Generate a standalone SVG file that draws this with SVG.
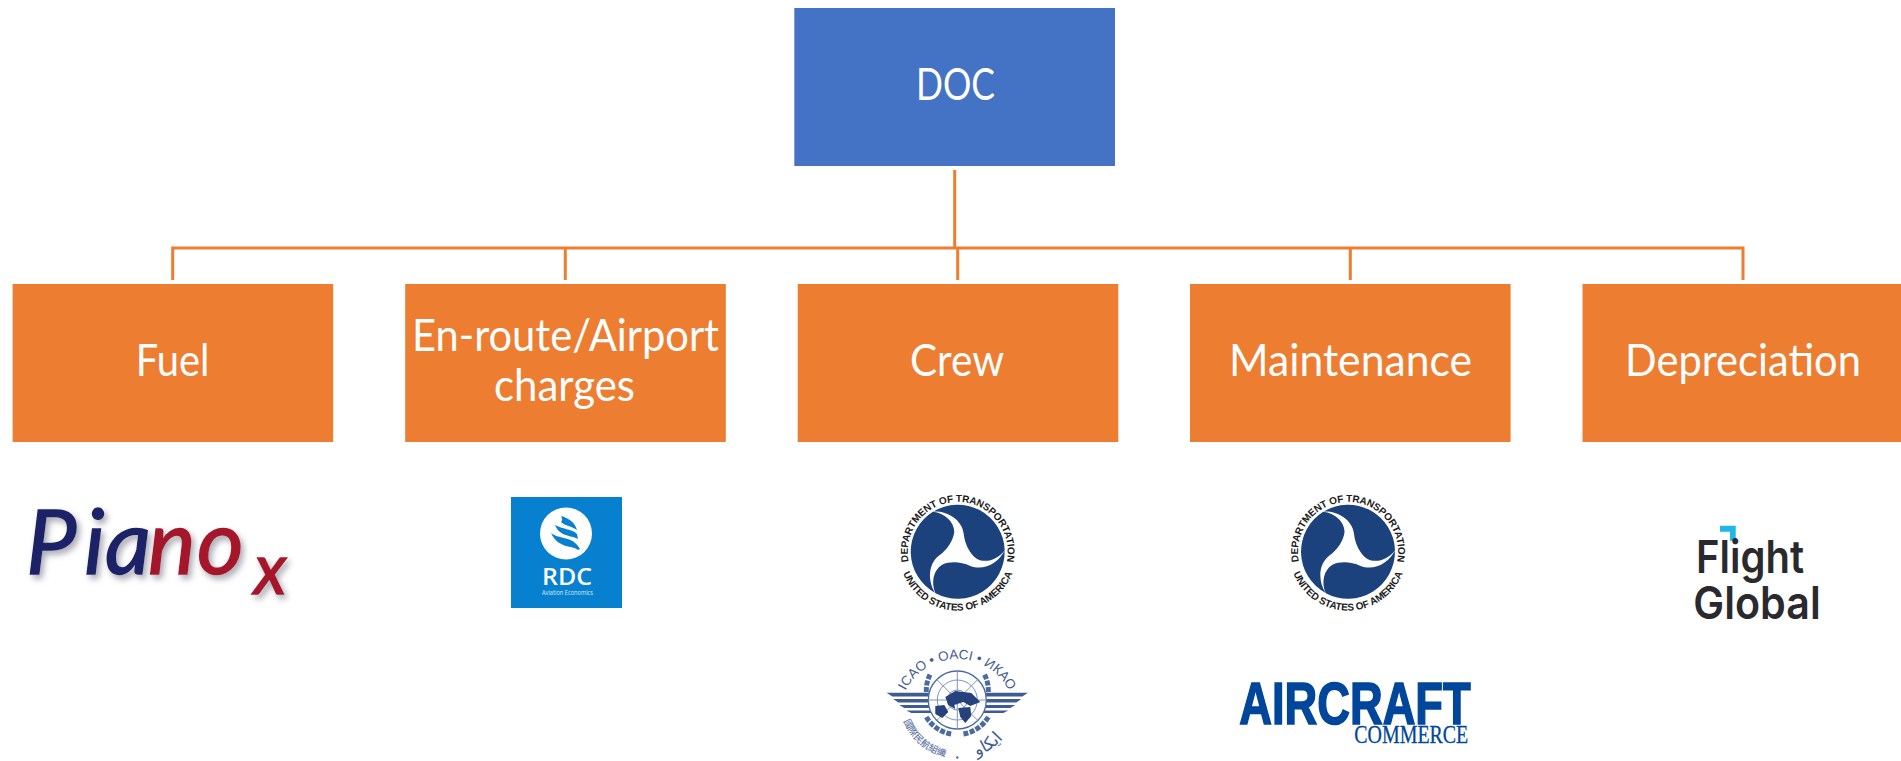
<svg xmlns="http://www.w3.org/2000/svg" width="1901" height="761" viewBox="0 0 1901 761">
<style>
.box{fill:#ED7D31}
.lbl{font-family:Lato,"Liberation Sans",sans-serif;font-size:45px;fill:#fff}
.conn{stroke:#ED7D31;stroke-width:3;fill:none}
.dot{font-family:"Liberation Sans Narrow","Liberation Sans",sans-serif;font-weight:700;font-size:10px;letter-spacing:-.15px;fill:#1c1c1c;text-anchor:middle}
.ic{fill:#3f5b96}
.ict{font-family:"Liberation Sans",sans-serif;font-size:13.5px;fill:#3f5b96;text-anchor:middle}
</style>
<defs>
<filter id="sh" x="-10%" y="-20%" width="125%" height="150%"><feDropShadow dx="3" dy="4" stdDeviation="3" flood-color="#8a8a98" flood-opacity=".75"/></filter>
<path id="lobe" d="M-24.6,-40A47,47 0 0 1 47,-1.5C40,8 28,12 19,7C12,2 7,-8 6,-18C4,-33 -12,-41 -24.6,-40Z" fill="#1b427c"/>
<g id="seal"><use href="#lobe"/><use href="#lobe" transform="rotate(120)"/><use href="#lobe" transform="rotate(240)"/></g>
<path id="dotTop" d="M-45,22A50,50 0 1 1 45,22"/>
<path id="dotBot" d="M-58,8A58.5,58.5 0 0 0 58,8"/>
<path id="icTop" d="M-58,17A58,58 0 0 1 58,17"/>
<path id="icZh" d="M-55,17A58,58 0 0 0 -8,57.5"/>
<path id="icAr" d="M9,58A58,58 0 0 0 52,30"/>
</defs>
<g id="connectors" class="conn">
<path d="M954.7,170V248"/>
<path d="M172.7,280V248H1743V280"/>
<path d="M565.3,248V280M957.7,248V280M1350.3,248V280"/>
</g>
<g id="node-doc"><rect x="794.3" y="8" width="320.7" height="158" fill="#4472C4"/><text class="lbl" x="916" y="100" textLength="79" lengthAdjust="spacingAndGlyphs">DOC</text></g>
<g id="node-fuel"><rect class="box" x="12.6" y="284" width="320.6" height="158"/><text class="lbl" x="135.7" y="375.7" textLength="73.7" lengthAdjust="spacingAndGlyphs">Fuel</text></g>
<g id="node-charges"><rect class="box" x="405.2" y="284" width="320.6" height="158"/><text class="lbl" x="412" y="351" textLength="307" lengthAdjust="spacingAndGlyphs">En-route/Airport</text><text class="lbl" x="494" y="401" textLength="141" lengthAdjust="spacingAndGlyphs">charges</text></g>
<g id="node-crew"><rect class="box" x="797.7" y="284" width="320.6" height="158"/><text class="lbl" x="910" y="375.7" textLength="94" lengthAdjust="spacingAndGlyphs">Crew</text></g>
<g id="node-maintenance"><rect class="box" x="1190" y="284" width="320.6" height="158"/><text class="lbl" x="1229" y="375.7" textLength="243" lengthAdjust="spacingAndGlyphs">Maintenance</text></g>
<g id="node-depreciation"><rect class="box" x="1582.5" y="284" width="318.5" height="158"/><text class="lbl" x="1625" y="375.7" textLength="236" lengthAdjust="spacingAndGlyphs">Depreciation</text></g>

<g id="logo-piano" filter="url(#sh)">
<text font-family="Lato,sans-serif" font-style="italic" font-size="90" stroke-width="1.4" y="574" x="26"><tspan fill="#1c2168" stroke="#1c2168" x="26 84 105">Pia</tspan><tspan fill="#a5152c" stroke="#a5152c" x="148 197" y="574">no</tspan><tspan fill="#a5152c" stroke="#a5152c" x="254" y="594" font-size="70">x</tspan></text>
</g>
<g id="logo-rdc">
<rect x="511" y="497" width="111" height="111" fill="#0880D0"/>
<ellipse cx="566" cy="533.5" rx="26" ry="26" fill="#fff"/>
<path fill="#0880D0" d="M561,516C568,518 575,522 577,530C572,526 565,526 561,522C563,520 562,518 561,516ZM555,525C562,529 572,529 577,534L578,539C571,535 560,537 555,525ZM551,533C560,540 572,535 580,549L578,550C573,545 558,549 551,533Z"/>
<text x="542" y="585" font-family="'Open Sans',sans-serif" font-weight="600" font-size="22.5" fill="#fff" textLength="50" lengthAdjust="spacingAndGlyphs">RDC</text>
<text x="542" y="594.5" font-family="'Open Sans',sans-serif" font-size="6.3" fill="#d5e9f7" textLength="51" lengthAdjust="spacingAndGlyphs">Aviation Economics</text>
</g>
<g id="logo-dot-crew" transform="translate(957.7,551.7)">
<use href="#seal"/>
<text class="dot"><textPath href="#dotTop" startOffset="50%">DEPARTMENT OF TRANSPORTATION</textPath></text>
<text class="dot"><textPath href="#dotBot" startOffset="50%">UNITED STATES OF AMERICA</textPath></text>
</g>
<g id="logo-dot-maint" transform="translate(1348,551.7)">
<use href="#seal"/>
<text class="dot"><textPath href="#dotTop" startOffset="50%">DEPARTMENT OF TRANSPORTATION</textPath></text>
<text class="dot"><textPath href="#dotBot" startOffset="50%">UNITED STATES OF AMERICA</textPath></text>
</g>
<g id="logo-icao" transform="translate(957.3,700)">
<g fill="none" stroke="#4a6aa0" stroke-width="5" stroke-dasharray="5 1.5"><path d="M-31,-8A36,36 0 0 1 -27,-26"/><path d="M31,-8A36,36 0 0 0 27,-26"/><path d="M-31,17A36,36 0 0 0 -6,34"/><path d="M31,17A36,36 0 0 1 6,34"/></g>
<g class="ic">
<path d="M-70.7,-7.3H-24V-3.5H-65ZM-64,-1H-24V2.5H-59ZM-58,5H-24V8H-53ZM-51,10.5H-24V13H-46Z"/>
<path d="M70.7,-7.3H24V-3.5H65ZM64,-1H24V2.5H59ZM58,5H24V8H53ZM51,10.5H24V13H46Z"/>
</g>
<circle r="29" fill="#fff" stroke="#4a6aa0" stroke-width="1.3"/>
<g fill="none" stroke="#7c93bd" stroke-width="1"><circle r="20"/><circle r="10"/><path d="M-29,0H29M0,-29V29M-20.500,-20.500L20.500,20.500M20.500,-20.500L-20.500,20.500"/></g>
<path fill="#26417c" d="M-12,-3L-2,-9L14,-7L23,2L13,6L6,2L-3,5L-2,9L-9,5ZM1,8L13,7L14,16L8,23L3,17ZM-22,6L-13,5L-9,12L-15,18L-22,14Z"/>
<text class="ict"><textPath href="#icTop" startOffset="50%">ICAO • OACI • ИКАО</textPath></text>
<text class="ict" style="font-family:'Noto Sans CJK TC',sans-serif;font-size:9.5px"><textPath href="#icZh" startOffset="50%">國際民航組織</textPath></text>
<circle cx="0" cy="57.5" r="1.2" fill="#4a6aa0"/>
<text class="ict" style="font-family:'DejaVu Sans',sans-serif;font-size:17px"><textPath href="#icAr" startOffset="50%">ايكاو</textPath></text>
</g>
<g id="logo-aircraft">
<text x="1239.3" y="724.3" font-family="'Liberation Sans',sans-serif" font-weight="700" font-size="58.7" fill="#00469B" stroke="#00469B" stroke-width="1.6" textLength="231.4" lengthAdjust="spacingAndGlyphs">AIRCRAFT</text>
<text x="1354.3" y="742.7" font-family="'Liberation Serif',serif" font-size="25" fill="#00469B" stroke="#00469B" stroke-width=".3" textLength="114" lengthAdjust="spacingAndGlyphs">COMMERCE</text>
</g>
<g id="logo-flightglobal">
<path fill="#1FB6E8" d="M1720,525.7H1735.7V540.7H1730V531.7H1720Z"/>
<text x="1696" y="573" font-family="Inter,sans-serif" font-weight="600" font-size="45" fill="#2A2A2E" textLength="108" lengthAdjust="spacingAndGlyphs">Flight</text>
<text x="1693.3" y="619.3" font-family="Inter,sans-serif" font-weight="600" font-size="45" fill="#2A2A2E" textLength="127.4" lengthAdjust="spacingAndGlyphs">Global</text>
</g>
</svg>
